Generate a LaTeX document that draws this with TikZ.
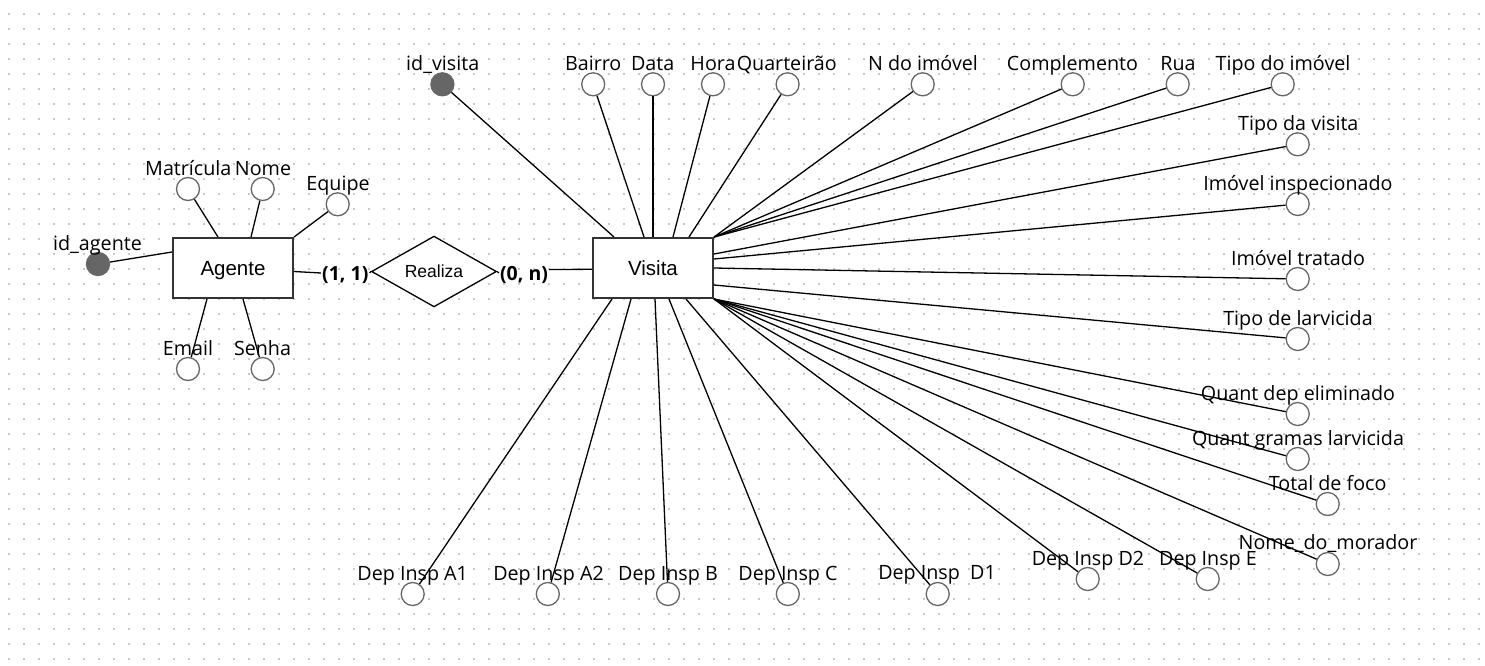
\documentclass[tikz,border=0pt]{standalone}
\usepackage{fontspec}
\setmainfont{Open Sans}
\newfontfamily\attrfont{Open Sans}
\newfontfamily\entfont{Liberation Sans}
\usetikzlibrary{shapes.geometric,calc}
\definecolor{gridc}{HTML}{C8C8C8}
\definecolor{attrc}{HTML}{666666}
\definecolor{boxc}{HTML}{333333}
\tikzset{
  entity/.style={draw=boxc, line width=2pt, fill=white, rectangle, minimum width=120pt, minimum height=60pt, inner sep=0pt, font=\entfont\fontsize{20.5}{21}\selectfont, text height=14.7pt, text depth=0pt},
  relation/.style={draw=black, line width=1.3pt, fill=white, diamond, minimum width=125pt, minimum height=67pt, inner sep=0pt, font=\entfont\fontsize{17.5}{18}\selectfont, text height=12.5pt, text depth=0pt},
  attr/.style={circle, draw=attrc, line width=1.3pt, fill=white, minimum size=23pt, inner sep=0pt},
  keyattr/.style={circle, draw=attrc, line width=1.3pt, fill=attrc, minimum size=23pt, inner sep=0pt},
  lbl/.style={anchor=base, inner sep=0pt, font=\attrfont\fontsize{19.7}{20}\selectfont},
  card/.style={inner sep=1pt, font=\attrfont\bfseries\fontsize{19.5}{20}\selectfont, text height=14pt, text depth=0pt},
  conn/.style={draw=black, line width=1.3pt},
  dotrow/.style={draw=gridc, line width=1.6pt, dash pattern=on 1.6pt off 13.4pt},
}
\begin{document}
\begin{tikzpicture}[x=1pt,y=-1pt]
\useasboundingbox (0,0) rectangle (1485,665);
\fill[white] (0,0) rectangle (1485,665);
\foreach \j in {0,...,43} \draw[dotrow] (8.2,{14+15*\j}) -- (1485,{14+15*\j});

% entities and relation
\node[entity] (agente) at (233,268) {Agente};
\node[entity] (visita) at (653,268) {Visita};
\node[relation] (realiza) at (434,271.5) {Realiza};
\node[card] (c11) at (345.3,273) {(1, 1)};
\node[card] (c0n) at (524,273) {(0, n)};

% Agente attributes
\node[keyattr] (ida) at (98,264) {};
\node[attr] (mat) at (188,189) {};
\node[attr] (nom) at (262.7,189) {};
\node[attr] (equ) at (337.7,204.3) {};
\node[attr] (ema) at (188,369) {};
\node[attr] (sen) at (262.7,369) {};

% Visita attributes
\node[keyattr] (idv) at (442.4,84.3) {};
\node[attr] (bai) at (593.2,84.3) {};
\node[attr] (dat) at (653,84.3) {};
\node[attr] (hor) at (713,84.3) {};
\node[attr] (qua) at (787.6,84.3) {};
\node[attr] (ndi) at (922.7,84.3) {};
\node[attr] (com) at (1072.7,84.3) {};
\node[attr] (rua) at (1177.7,84.3) {};
\node[attr] (tdi) at (1282.7,84.3) {};
\node[attr] (tdv) at (1297.7,144.3) {};
\node[attr] (iin) at (1297.7,204) {};
\node[attr] (itr) at (1297.7,279) {};
\node[attr] (tdl) at (1297.7,339) {};
\node[attr] (qde) at (1297.7,414) {};
\node[attr] (qgl) at (1297.7,459) {};
\node[attr] (tdf) at (1327.7,504) {};
\node[attr] (ndm) at (1327.7,564) {};
\node[attr] (die) at (1207.7,579) {};
\node[attr] (dd2) at (1087.7,579) {};
\node[attr] (dd1) at (937.7,594) {};
\node[attr] (dic) at (787.8,594) {};
\node[attr] (dib) at (668,594) {};
\node[attr] (da2) at (547.8,594) {};
\node[attr] (da1) at (412.7,594) {};

% connectors: relation
\draw[conn] (agente.east |- realiza.west) -- (c11.west);
\draw[conn] (c11.east) -- (realiza.west);
\draw[conn] (realiza.east) -- (c0n.west);
\draw[conn] ($(c0n.east)+(0,-3.5)$) -- ($(visita.west)+(0,1.3)$);

% connectors: Agente
\draw[conn] ($(agente.west)+(0,-16)$) -- (ida);
\draw[conn] ($(agente.north)+(-15,0)$) -- (mat);
\draw[conn] ($(agente.north)+(18,0)$) -- (nom);
\draw[conn] (agente.north east) -- (equ);
\draw[conn] ($(agente.south)+(-26,0)$) -- (ema);
\draw[conn] ($(agente.south)+(10,0)$) -- (sen);

% connectors: Visita top
\draw[conn] ($(visita.north)+(-39,0)$) -- (idv);
\draw[conn] ($(visita.north)+(-9,0)$) -- (bai);
\draw[conn] (visita.north) -- (dat);
\draw[conn] ($(visita.north)+(20,0)$) -- (hor);
\draw[conn] ($(visita.north)+(36,0)$) -- (qua);
\draw[conn] (visita.north east) -- (ndi);
\draw[conn] (visita.north east) -- (com);
\draw[conn] (visita.north east) -- (rua);
\draw[conn] (visita.north east) -- (tdi);
% right
\draw[conn] ($(visita.east)+(0,-14)$) -- (tdv);
\draw[conn] ($(visita.east)+(0,-9)$) -- (iin);
\draw[conn] (visita.east) -- (itr);
\draw[conn] ($(visita.east)+(0,17)$) -- (tdl);
\draw[conn] (visita.south east) -- (qde);
\draw[conn] (visita.south east) -- (qgl);
\draw[conn] (visita.south east) -- (tdf);
\draw[conn] (visita.south east) -- (ndm);
\draw[conn] (visita.south east) -- (die);
\draw[conn] (visita.south east) -- (dd2);
% bottom
\draw[conn] ($(visita.south)+(33,0)$) -- (dd1);
\draw[conn] ($(visita.south)+(16,0)$) -- (dic);
\draw[conn] ($(visita.south)+(2,0)$) -- (dib);
\draw[conn] ($(visita.south)+(-22,0)$) -- (da2);
\draw[conn] ($(visita.south)+(-41,0)$) -- (da1);

% labels
\node[lbl] (tida) at (97.5,250) {id\_agente};
\node[lbl] (tmat) at (188.3,175) {Matrícula};
\node[lbl] (tnom) at (263,175) {Nome};
\node[lbl] (tequ) at (338,190.3) {Equipe};
\node[lbl] (tema) at (188,355) {Email};
\node[lbl] (tsen) at (262.5,355) {Senha};

\node[lbl] (tidv) at (442.7,70.3) {id\_visita};
\node[lbl] (tbai) at (593.2,70.3) {Bairro};
\node[lbl] (tdat) at (652.7,70.3) {Data};
\node[lbl] (thor) at (713,70.3) {Hora};
\node[lbl] (tqua) at (786.8,70.3) {Quarteirão};
\node[lbl] (tndi) at (923,70.3) {N do imóvel};
\node[lbl] (tcom) at (1072.5,70.3) {Complemento};
\node[lbl] (trua) at (1178,70.3) {Rua};
\node[lbl] (ttdi) at (1283,70.3) {Tipo do imóvel};
\node[lbl] (ttdv) at (1298.3,130.3) {Tipo da visita};
\node[lbl] (tiin) at (1298,190.3) {Imóvel inspecionado};
\node[lbl] (titr) at (1298,265.3) {Imóvel tratado};
\node[lbl] (ttdl) at (1298,325.3) {Tipo de larvicida};
\node[lbl] (tqde) at (1298,400.3) {Quant dep eliminado};
\node[lbl] (tqgl) at (1298,445.3) {Quant gramas larvicida};
\node[lbl] (ttdf) at (1327.7,490.3) {Total de foco};
\node[lbl] (tndm) at (1328,549.7) {Nome\_do\_morador};
\node[lbl] (tdie) at (1208,565.3) {Dep Insp E};
\node[lbl] (tdd2) at (1088,565.3) {Dep Insp D2};
\node[lbl] (tdd1) at (937,579.7) {Dep Insp\ \ D1};
\node[lbl] (tdic) at (788,580.3) {Dep Insp C};
\node[lbl] (tdib) at (668,580.3) {Dep Insp B};
\node[lbl] (tda2) at (548.5,580.3) {Dep Insp A2};
\node[lbl] (tda1) at (412.7,580.3) {Dep Insp A1};
\end{tikzpicture}
\end{document}
